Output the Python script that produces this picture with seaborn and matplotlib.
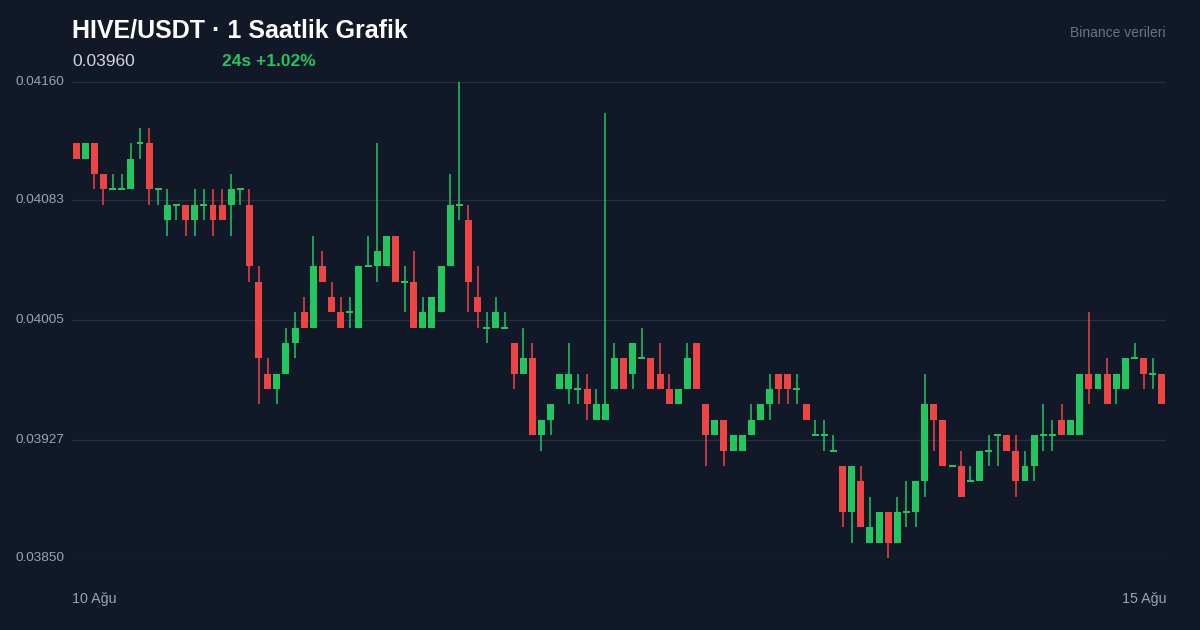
import numpy as np
import pandas as pd
import matplotlib
matplotlib.use("Agg")
import matplotlib.pyplot as plt
import matplotlib.transforms as mtransforms
import seaborn as sns

# prices in units of 0.00001 USDT
opens = [4120,4110,4120,4100,4090,4090,4090,4120,4120,4090,
         4070,4080,4080,4070,4080,4080,4080,4080,4090,4080,
         4030,3970,3960,3970,3990,4010,4000,4040,4020,4010,
         4010,4000,4040,4040,4040,4060,4030,4030,4000,4000,
         4010,4040,4080,4070,4020,4000,4000,4000,3990,3970,
         3980,3930,3940,3960,3960,3960,3960,3940,3940,3960,
         3980,3970,3980,3980,3970,3960,3950,3960,3990,3950,
         3930,3940,3920,3920,3930,3940,3950,3970,3970,3960,
         3950,3930,3930,3920,3910,3880,3900,3860,3860,3880,
         3860,3880,3880,3900,3950,3940,3910,3910,3900,3900,
         3920,3930,3930,3920,3900,3910,3930,3930,3940,3930,
         3930,3970,3960,3970,3960,3960,3980,3980,3970,3970]
highs = [4120,4120,4120,4100,4100,4100,4120,4130,4130,4090,
         4090,4080,4080,4090,4090,4090,4090,4100,4090,4090,
         4040,3980,3970,4000,4010,4020,4060,4050,4030,4020,
         4020,4040,4060,4120,4060,4060,4040,4050,4020,4020,
         4040,4100,4160,4080,4040,4010,4020,4010,3990,4000,
         3990,3940,3950,3970,3990,3970,3970,3960,4140,3990,
         3980,3990,4000,3980,3990,3970,3960,3990,3990,3950,
         3940,3940,3930,3930,3950,3950,3970,3970,3970,3970,
         3950,3940,3940,3930,3910,3910,3910,3890,3880,3880,
         3890,3900,3900,3970,3950,3940,3910,3920,3910,3920,
         3930,3930,3930,3930,3920,3930,3950,3940,3950,3940,
         3970,4010,3970,3980,3970,3980,3990,3980,3980,3970]
lows = [4110,4110,4090,4080,4090,4090,4090,4110,4080,4080,
        4060,4070,4060,4060,4070,4060,4070,4060,4080,4030,
        3950,3960,3950,3970,3980,4000,4000,4030,4010,4000,
        4000,4000,4040,4030,4040,4030,4010,4000,4000,4000,
        4010,4040,4070,4010,4000,3990,4000,4000,3960,3970,
        3930,3920,3930,3960,3950,3950,3940,3940,3940,3960,
        3960,3960,3980,3960,3960,3950,3950,3960,3960,3910,
        3930,3910,3920,3920,3930,3940,3940,3950,3950,3950,
        3940,3930,3920,3920,3870,3860,3870,3860,3860,3850,
        3860,3870,3870,3890,3920,3910,3910,3890,3900,3900,
        3910,3910,3920,3890,3900,3900,3920,3920,3930,3930,
        3930,3950,3960,3950,3950,3960,3980,3960,3960,3950]
closes = [4110,4120,4100,4090,4090,4090,4110,4120,4090,4090,
          4080,4080,4070,4080,4080,4070,4070,4090,4090,4040,
          3980,3960,3970,3990,4000,4000,4040,4030,4010,4000,
          4010,4040,4040,4050,4060,4030,4030,4000,4010,4020,
          4040,4080,4080,4030,4010,4000,4010,4000,3970,3980,
          3930,3940,3950,3970,3970,3960,3950,3950,3950,3980,
          3960,3990,3980,3960,3960,3950,3960,3980,3960,3930,
          3940,3920,3930,3930,3940,3950,3960,3960,3960,3960,
          3940,3930,3930,3920,3880,3910,3870,3870,3880,3860,
          3880,3880,3900,3950,3940,3910,3910,3890,3900,3920,
          3920,3930,3920,3900,3910,3930,3930,3930,3930,3940,
          3970,3960,3970,3950,3970,3980,3980,3970,3970,3950]
ytick_vals = [0.04160, 0.04083, 0.04005, 0.03927, 0.03850]
ytick_labels = ["0.04160", "0.04083", "0.04005", "0.03927", "0.03850"]
x_labels = ["10 Ağu", "15 Ağu"]
title = "HIVE/USDT · 1 Saatlik Grafik"
last_price = "0.03960"
change_text = "24s +1.02%"
source = "Binance verileri"

UNIT = 1e-5
df = pd.DataFrame({"o": np.array(opens) * UNIT, "h": np.array(highs) * UNIT,
                   "l": np.array(lows) * UNIT, "c": np.array(closes) * UNIT})
df["i"] = np.arange(len(df))
df["up"] = df["c"] >= df["o"]

BG = "#111827"
GREEN = "#22c55e"
RED = "#ef4444"
sns.set_theme(style="dark", rc={"figure.facecolor": BG, "axes.facecolor": BG})
plt.rcParams["font.family"] = ["Liberation Sans", "DejaVu Sans"]

fig = plt.figure(figsize=(12, 6.3), dpi=100)
ax = fig.add_axes([72/1200, 1-558/630, (1166-72)/1200, (558-82)/630])
ax.set_facecolor(BG)

cols = np.where(df["up"], GREEN, RED)
ax.vlines(df["i"], df["l"], df["h"], colors=cols, linewidth=1.1, zorder=2)
diff = np.abs(df["c"] - df["o"]).to_numpy()
bottom = np.minimum(df["o"], df["c"]).to_numpy()
DOJI = 0.000013
height = np.where(diff < 1e-9, DOJI, diff)
bottom = np.where(diff < 1e-9, bottom - DOJI / 2, bottom)
ax.bar(df["i"], height, bottom=bottom, width=0.76, color=cols, linewidth=0, zorder=3)

ax.set_xlim(-0.45, len(df) - 0.55)
ax.set_ylim(0.03850, 0.04160)
ax.set_yticks(ytick_vals)
ax.set_yticklabels([])
ax.set_xticks([])
ax.grid(axis="y", color="#243041", linewidth=1)
ax.grid(axis="x", visible=False)
for s in ax.spines.values():
    s.set_visible(False)
ax.tick_params(length=0)

tr = mtransforms.blended_transform_factory(fig.transFigure, ax.transData)
for v, lab in zip(ytick_vals, ytick_labels):
    ax.text(15/1200, v, lab, transform=tr, ha="left", va="center",
            color="#9ca3af", fontsize=9.7)

fig.text(72/1200, 1-30/630, title, color="white", fontsize=18, fontweight="bold", va="center")
fig.text(72/1200, 1-61/630, last_price, color="#d1d5db", fontsize=12.5, va="center")
fig.text(222/1200, 1-61/630, change_text, color=GREEN, fontsize=12.5, fontweight="bold", va="center")
fig.text(1166/1200, 1-33/630, source, color="#6b7280", fontsize=10, ha="right", va="center")
fig.text(72/1200, 1-599/630, x_labels[0], color="#9ca3af", fontsize=10.3, ha="left", va="center")
fig.text(1166/1200, 1-599/630, x_labels[1], color="#9ca3af", fontsize=10.3, ha="right", va="center")

fig.savefig("out.png", dpi=100, facecolor=BG)
